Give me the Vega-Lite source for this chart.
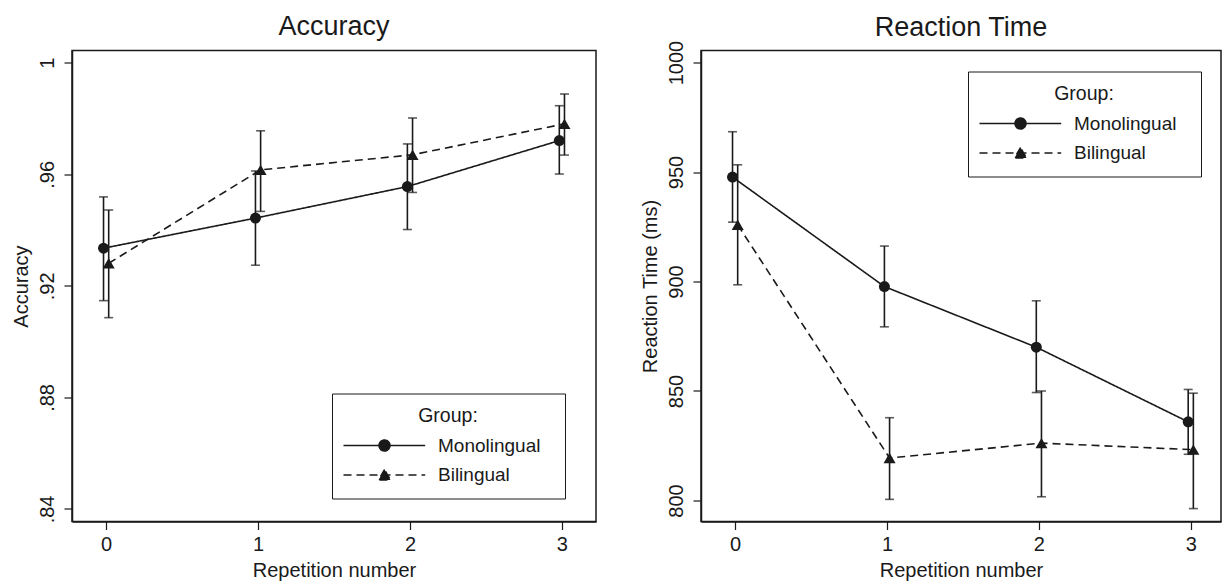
{
  "$schema": "https://vega.github.io/schema/vega-lite/v6.json",
  "background": "white",
  "padding": {"left": 10, "top": 11.5, "right": 0, "bottom": 0},
  "datasets": {
    "acc": [
      {"rep": 0, "pos": -0.017, "group": "Monolingual", "mean": 0.9335, "lo": 0.9147, "hi": 0.9519},
      {"rep": 0, "pos": 0.017, "group": "Bilingual", "mean": 0.9281, "lo": 0.9086, "hi": 0.9472},
      {"rep": 1, "pos": 0.983, "group": "Monolingual", "mean": 0.9443, "lo": 0.9274, "hi": 0.9612},
      {"rep": 1, "pos": 1.017, "group": "Bilingual", "mean": 0.9616, "lo": 0.9467, "hi": 0.9756},
      {"rep": 2, "pos": 1.983, "group": "Monolingual", "mean": 0.9556, "lo": 0.9402, "hi": 0.9709},
      {"rep": 2, "pos": 2.017, "group": "Bilingual", "mean": 0.967, "lo": 0.9535, "hi": 0.9802},
      {"rep": 3, "pos": 2.983, "group": "Monolingual", "mean": 0.9721, "lo": 0.9601, "hi": 0.9846},
      {"rep": 3, "pos": 3.017, "group": "Bilingual", "mean": 0.9781, "lo": 0.9669, "hi": 0.9888}
    ],
    "rt": [
      {"rep": 0, "pos": -0.017, "group": "Monolingual", "mean": 947.7, "lo": 927.1, "hi": 968.4},
      {"rep": 0, "pos": 0.017, "group": "Bilingual", "mean": 925.9, "lo": 898.5, "hi": 953.3},
      {"rep": 1, "pos": 0.983, "group": "Monolingual", "mean": 897.7, "lo": 879.3, "hi": 916.2},
      {"rep": 1, "pos": 1.017, "group": "Bilingual", "mean": 819.4, "lo": 800.5, "hi": 837.8},
      {"rep": 2, "pos": 1.983, "group": "Monolingual", "mean": 870.0, "lo": 849.3, "hi": 891.2},
      {"rep": 2, "pos": 2.017, "group": "Bilingual", "mean": 826.2, "lo": 801.7, "hi": 850.0},
      {"rep": 3, "pos": 2.983, "group": "Monolingual", "mean": 835.9, "lo": 821.1, "hi": 850.7},
      {"rep": 3, "pos": 3.017, "group": "Bilingual", "mean": 823.2, "lo": 796.3, "hi": 849.0}
    ]
  },
  "config": {
    "font": "Liberation Sans",
    "view": {"stroke": "#1a1a1a", "strokeWidth": 1.5},
    "axis": {
      "grid": false,
      "domainColor": "#1a1a1a",
      "domainWidth": 1.5,
      "tickColor": "#1a1a1a",
      "tickWidth": 1.2,
      "tickSize": 8,
      "labelColor": "#1a1a1a",
      "titleColor": "#1a1a1a",
      "labelFont": "Liberation Sans",
      "titleFont": "Liberation Sans",
      "labelFontSize": 20,
      "titleFontSize": 20,
      "titleFontWeight": "normal"
    },
    "axisX": {"labelPadding": 5, "titlePadding": 6},
    "axisY": {"labelAngle": -90, "labelAlign": "center", "labelBaseline": "alphabetic", "labelPadding": 11, "titlePadding": 6},
    "title": {"font": "Liberation Sans", "fontSize": 27, "fontWeight": "normal", "color": "#1a1a1a", "anchor": "middle", "frame": "group"},
    "legend": {
      "titleFont": "Liberation Sans",
      "titleFontSize": 19.5,
      "titleFontWeight": "normal",
      "titleColor": "#1a1a1a",
      "titleAnchor": "middle",
      "titleAlign": "center",
      "titlePadding": 10,
      "labelFont": "Liberation Sans",
      "labelFontSize": 19,
      "labelColor": "#1a1a1a",
      "labelOffset": 74,
      "rowPadding": 9.5,
      "padding": 13,
      "symbolSize": 100,
      "symbolOpacity": 1,
      "symbolStrokeWidth": 1.5,
      "symbolStrokeColor": "#1a1a1a",
      "symbolFillColor": "#1a1a1a",
      "strokeColor": "#1a1a1a",
      "fillColor": "white"
    }
  },
  "spacing": 42,
  "resolve": {
    "scale": {"shape": "independent", "strokeDash": "independent", "fill": "independent"},
    "legend": {"shape": "independent", "strokeDash": "independent", "fill": "independent"}
  },
  "hconcat": [
    {
      "width": 524,
      "height": 471,
      "title": {"text": "Accuracy", "offset": 10},
      "data": {"name": "acc"},
      "encoding": {
        "x": {"field": "pos", "type": "quantitative", "scale": {"domain": [-0.2245, 3.2245], "nice": false, "zero": false}, "axis": {"values": [0, 1, 2, 3], "format": "d", "title": "Repetition number"}}
      },
      "layer": [
        {
          "mark": {"type": "rule", "color": "#1a1a1a", "strokeWidth": 1.6},
          "encoding": {
            "y": {"field": "lo", "type": "quantitative", "scale": {"domain": [0.8355, 1.0044], "nice": false, "zero": false}, "axis": {"values": [0.84, 0.88, 0.92, 0.96, 1], "labelExpr": "datum.value < 1 ? slice(format(datum.value, '.2f'), 1) : '1'", "title": "Accuracy"}},
            "y2": {"field": "hi"}
          }
        },
        {
          "mark": {"type": "tick", "orient": "horizontal", "color": "#1a1a1a", "size": 9, "thickness": 1.6},
          "encoding": {"y": {"field": "lo", "type": "quantitative", "scale": {"domain": [0.8355, 1.0044], "nice": false, "zero": false}, "title": "Accuracy"}}
        },
        {
          "mark": {"type": "tick", "orient": "horizontal", "color": "#1a1a1a", "size": 9, "thickness": 1.6},
          "encoding": {"y": {"field": "hi", "type": "quantitative", "scale": {"domain": [0.8355, 1.0044], "nice": false, "zero": false}, "title": "Accuracy"}}
        },
        {
          "mark": {"type": "line", "color": "#1a1a1a", "strokeWidth": 1.6},
          "encoding": {
            "y": {"field": "mean", "type": "quantitative", "scale": {"domain": [0.8355, 1.0044], "nice": false, "zero": false}, "title": "Accuracy"},
            "strokeDash": {"field": "group", "type": "nominal", "scale": {"domain": ["Monolingual", "Bilingual"], "range": [[1, 0], [8, 5]]}, "legend": {"title": "Group:", "orient": "none", "legendX": 260, "legendY": 343}}
          }
        },
        {
          "transform": [{"filter": "datum.group === 'Monolingual'"}],
          "mark": {"type": "point", "filled": true, "opacity": 1, "shape": "circle", "size": 121, "color": "#1a1a1a"},
          "encoding": {"y": {"field": "mean", "type": "quantitative", "scale": {"domain": [0.8355, 1.0044], "nice": false, "zero": false}, "title": "Accuracy"}}
        },
        {
          "transform": [{"filter": "datum.group === 'Bilingual'"}],
          "mark": {"type": "point", "filled": true, "opacity": 1, "shape": "triangle-up", "size": 144, "color": "#1a1a1a"},
          "encoding": {"y": {"field": "mean", "type": "quantitative", "scale": {"domain": [0.8355, 1.0044], "nice": false, "zero": false}, "title": "Accuracy"}}
        },
        {
          "mark": {"type": "point", "filled": false, "opacity": 0, "size": 1, "color": "#1a1a1a", "strokeWidth": 1.5},
          "encoding": {
            "y": {"field": "mean", "type": "quantitative", "scale": {"domain": [0.8355, 1.0044], "nice": false, "zero": false}, "title": "Accuracy"},
            "strokeDash": {"field": "group", "type": "nominal", "scale": {"domain": ["Monolingual", "Bilingual"], "range": [[1, 0], [8, 5]]}, "legend": {"title": "Group:", "orient": "none", "legendX": 260, "legendY": 343}},
            "fill": {"field": "group", "type": "nominal", "scale": {"domain": ["Monolingual", "Bilingual"], "range": ["#1a1a1a", "#1a1a1a"]}, "legend": {"title": "Group:", "orient": "none", "legendX": 260, "legendY": 343}},
            "shape": {
              "field": "group", "type": "nominal",
              "scale": {"domain": ["Monolingual", "Bilingual"], "range": ["M-2.2,0H14.14M4.9,0A1.1,1.1,0,1,1,7.1,0A1.1,1.1,0,1,1,4.9,0ZM38.8,0H38.8", "M-2.2,0H14.14M6,-1.1L4.8,1L7.2,1ZM38.8,0H38.8"]},
              "legend": {"title": "Group:", "orient": "none", "legendX": 260, "legendY": 343}
            }
          }
        }
      ]
    },
    {
      "width": 520,
      "height": 471,
      "title": {"text": "Reaction Time", "offset": -2},
      "data": {"name": "rt"},
      "encoding": {
        "x": {"field": "pos", "type": "quantitative", "scale": {"domain": [-0.2245, 3.199], "nice": false, "zero": false}, "axis": {"values": [0, 1, 2, 3], "format": "d", "title": "Repetition number"}}
      },
      "layer": [
        {
          "mark": {"type": "rule", "color": "#1a1a1a", "strokeWidth": 1.6},
          "encoding": {
            "y": {"field": "lo", "type": "quantitative", "scale": {"domain": [790.4, 1005.5], "nice": false, "zero": false}, "axis": {"values": [800, 850, 900, 950, 1000], "format": "d", "title": "Reaction Time (ms)"}},
            "y2": {"field": "hi"}
          }
        },
        {
          "mark": {"type": "tick", "orient": "horizontal", "color": "#1a1a1a", "size": 9, "thickness": 1.6},
          "encoding": {"y": {"field": "lo", "type": "quantitative", "scale": {"domain": [790.4, 1005.5], "nice": false, "zero": false}, "title": "Reaction Time (ms)"}}
        },
        {
          "mark": {"type": "tick", "orient": "horizontal", "color": "#1a1a1a", "size": 9, "thickness": 1.6},
          "encoding": {"y": {"field": "hi", "type": "quantitative", "scale": {"domain": [790.4, 1005.5], "nice": false, "zero": false}, "title": "Reaction Time (ms)"}}
        },
        {
          "mark": {"type": "line", "color": "#1a1a1a", "strokeWidth": 1.6},
          "encoding": {
            "y": {"field": "mean", "type": "quantitative", "scale": {"domain": [790.4, 1005.5], "nice": false, "zero": false}, "title": "Reaction Time (ms)"},
            "strokeDash": {"field": "group", "type": "nominal", "scale": {"domain": ["Monolingual", "Bilingual"], "range": [[1, 0], [8, 5]]}, "legend": {"title": "Group:", "orient": "none", "legendX": 267, "legendY": 21}}
          }
        },
        {
          "transform": [{"filter": "datum.group === 'Monolingual'"}],
          "mark": {"type": "point", "filled": true, "opacity": 1, "shape": "circle", "size": 121, "color": "#1a1a1a"},
          "encoding": {"y": {"field": "mean", "type": "quantitative", "scale": {"domain": [790.4, 1005.5], "nice": false, "zero": false}, "title": "Reaction Time (ms)"}}
        },
        {
          "transform": [{"filter": "datum.group === 'Bilingual'"}],
          "mark": {"type": "point", "filled": true, "opacity": 1, "shape": "triangle-up", "size": 144, "color": "#1a1a1a"},
          "encoding": {"y": {"field": "mean", "type": "quantitative", "scale": {"domain": [790.4, 1005.5], "nice": false, "zero": false}, "title": "Reaction Time (ms)"}}
        },
        {
          "mark": {"type": "point", "filled": false, "opacity": 0, "size": 1, "color": "#1a1a1a", "strokeWidth": 1.5},
          "encoding": {
            "y": {"field": "mean", "type": "quantitative", "scale": {"domain": [790.4, 1005.5], "nice": false, "zero": false}, "title": "Reaction Time (ms)"},
            "strokeDash": {"field": "group", "type": "nominal", "scale": {"domain": ["Monolingual", "Bilingual"], "range": [[1, 0], [8, 5]]}, "legend": {"title": "Group:", "orient": "none", "legendX": 267, "legendY": 21}},
            "fill": {"field": "group", "type": "nominal", "scale": {"domain": ["Monolingual", "Bilingual"], "range": ["#1a1a1a", "#1a1a1a"]}, "legend": {"title": "Group:", "orient": "none", "legendX": 267, "legendY": 21}},
            "shape": {
              "field": "group", "type": "nominal",
              "scale": {"domain": ["Monolingual", "Bilingual"], "range": ["M-2.2,0H14.14M4.9,0A1.1,1.1,0,1,1,7.1,0A1.1,1.1,0,1,1,4.9,0ZM38.8,0H38.8", "M-2.2,0H14.14M6,-1.1L4.8,1L7.2,1ZM38.8,0H38.8"]},
              "legend": {"title": "Group:", "orient": "none", "legendX": 267, "legendY": 21}
            }
          }
        }
      ]
    }
  ]
}
